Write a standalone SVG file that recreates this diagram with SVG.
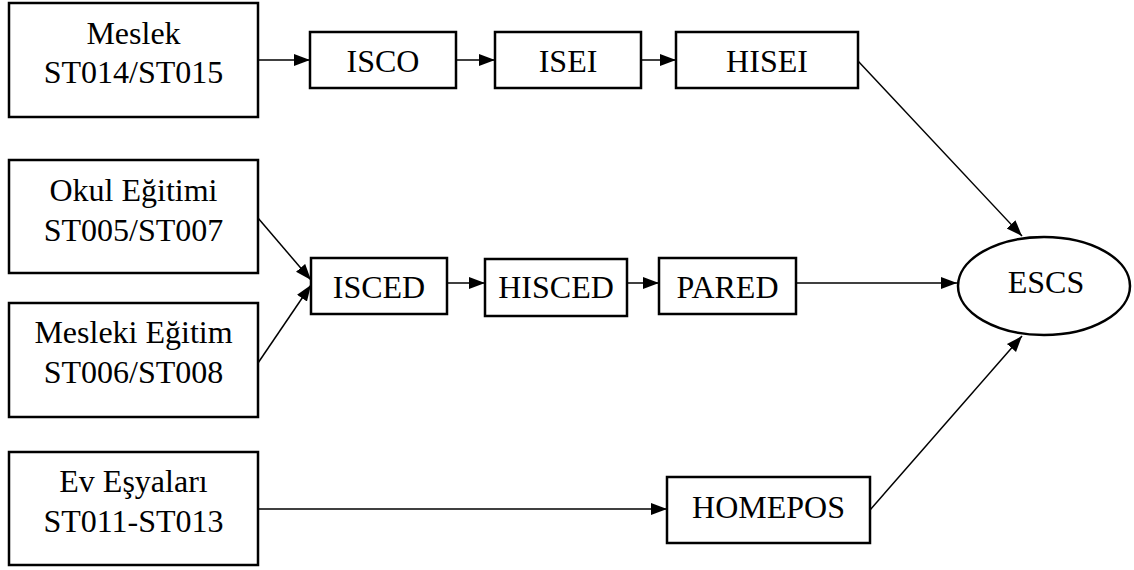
<svg xmlns="http://www.w3.org/2000/svg" width="1134" height="570" viewBox="0 0 1134 570">
<style>
  .box { fill: #ffffff; stroke: #000000; stroke-width: 2.5; }
  .lbl { font-family: "Liberation Serif", "Times New Roman", serif; font-size: 32px; fill: #000000; text-anchor: middle; }
  .edge { stroke: #000000; stroke-width: 1.5; fill: none; marker-end: url(#arrow); }
</style>
<defs>
  <marker id="arrow" markerUnits="userSpaceOnUse" markerWidth="17" markerHeight="14" refX="16" refY="7" orient="auto">
    <path d="M0,1 L16,7 L0,13 Z" fill="#000000"/>
  </marker>
</defs>
<rect width="1134" height="570" fill="#ffffff"/>

<g id="edges">
  <line class="edge" x1="258" y1="60" x2="310" y2="60"/>
  <line class="edge" x1="456" y1="60" x2="495" y2="60"/>
  <line class="edge" x1="641" y1="60" x2="676" y2="60"/>
  <line class="edge" x1="858" y1="61" x2="1022" y2="236"/>
  <line class="edge" x1="258" y1="218" x2="311" y2="280"/>
  <line class="edge" x1="258" y1="363" x2="311" y2="285"/>
  <line class="edge" x1="447" y1="283" x2="485" y2="283"/>
  <line class="edge" x1="627" y1="283" x2="659" y2="283"/>
  <line class="edge" x1="796" y1="283" x2="957" y2="283"/>
  <line class="edge" x1="258" y1="509" x2="667" y2="509"/>
  <line class="edge" x1="870" y1="510" x2="1022" y2="336"/>
</g>

<g id="meslek">
  <rect class="box" x="9" y="3" width="249" height="114"/>
  <text class="lbl" x="133.5" y="44">Meslek</text>
  <text class="lbl" x="133.5" y="83">ST014/ST015</text>
</g>
<g id="isco">
  <rect class="box" x="310" y="32" width="146" height="56"/>
  <text class="lbl" x="383" y="72">ISCO</text>
</g>
<g id="isei">
  <rect class="box" x="495" y="32" width="146" height="56"/>
  <text class="lbl" x="568" y="72">ISEI</text>
</g>
<g id="hisei">
  <rect class="box" x="676" y="32" width="182" height="56"/>
  <text class="lbl" x="767" y="72">HISEI</text>
</g>

<g id="okul">
  <rect class="box" x="9" y="160" width="249" height="113"/>
  <text class="lbl" x="133.5" y="201">Okul Eğitimi</text>
  <text class="lbl" x="133.5" y="241">ST005/ST007</text>
</g>
<g id="mesleki">
  <rect class="box" x="9" y="303" width="249" height="114"/>
  <text class="lbl" x="133.5" y="343">Mesleki Eğitim</text>
  <text class="lbl" x="133.5" y="383">ST006/ST008</text>
</g>
<g id="isced">
  <rect class="box" x="311" y="258" width="136" height="56"/>
  <text class="lbl" x="379" y="298">ISCED</text>
</g>
<g id="hisced">
  <rect class="box" x="485" y="259" width="142" height="57"/>
  <text class="lbl" x="556" y="298">HISCED</text>
</g>
<g id="pared">
  <rect class="box" x="659" y="258" width="137" height="56"/>
  <text class="lbl" x="727.5" y="298">PARED</text>
</g>
<g id="escs">
  <ellipse class="box" cx="1044" cy="286" rx="86" ry="49"/>
  <text class="lbl" x="1046" y="293">ESCS</text>
</g>

<g id="ev">
  <rect class="box" x="9" y="452" width="249" height="113"/>
  <text class="lbl" x="133.5" y="492">Ev Eşyaları</text>
  <text class="lbl" x="133.5" y="532">ST011-ST013</text>
</g>
<g id="homepos">
  <rect class="box" x="667" y="477" width="203" height="66"/>
  <text class="lbl" x="768.5" y="518">HOMEPOS</text>
</g>
</svg>
